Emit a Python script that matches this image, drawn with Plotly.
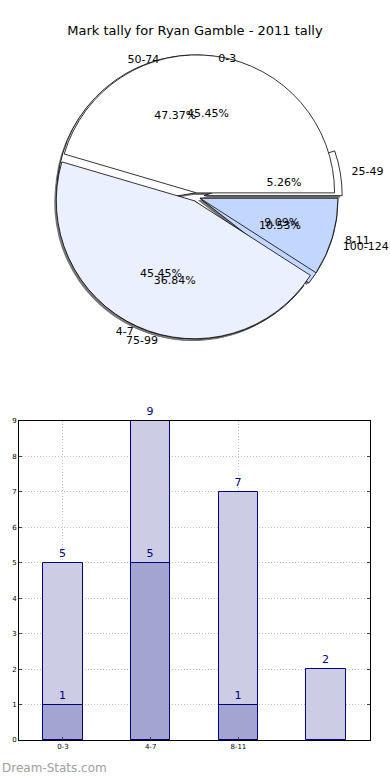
import plotly.graph_objects as go

# ---- data ----
title_text = "Mark tally for Ryan Gamble - 2011 tally"
pie1_labels = ["0-3", "4-7", "8-11"]
pie1_values = [5, 5, 1]
pie2_labels = ["25-49", "50-74", "75-99", "100-124"]
pie2_values = [1, 9, 7, 2]

bar_x = [0, 1, 2, 3]
bar_tick_labels = ["0-3", "4-7", "8-11"]
bar_light = [5, 9, 7, 2]
bar_dark = [1, 5, 1, None]

# ---- styling ----
W, H = 390, 780
pie_cx, pie_cy = 196, 197  # px
R = 138                    # pie radius, px
slice_pull1 = [0.03, 0.03, 0.03]
slice_pull2 = [0.06, 0.03, 0.03, 0.03]
pct_R = 104
pct_pull1 = [0.31, 0.31, 0.08]
pct_pull2 = [0.0, 0.31, 0.31, 0.1]
lab_R = 132
lab_pull1 = [0.01, 0.075, 0.15]
lab_pull2 = [0.17, 0.03, 0.075, 0.15]

def pdom(r, pulls, dx=0, dy=0):
    half = r * (1 + max(pulls))
    x0 = (pie_cx + dx - half) / W
    x1 = (pie_cx + dx + half) / W
    y0 = 1 - (pie_cy + dy + half) / H
    y1 = 1 - (pie_cy + dy - half) / H
    return dict(x=[x0, x1], y=[y0, y1])

def rot(vals):
    # plotly puts the first ccw slice clockwise of `rotation`; shift so the
    # first slice starts at 3 o'clock and runs counterclockwise
    return 90 - 360.0 * vals[0] / sum(vals)

pie1_colors = ["#ffffff", "#eaf0fe", "#c3d7fe"]
pie2_colors = ["#ffffff", "#ffffff", "#eaf0fe", "#c3d7fe"]
txtfont = dict(family="DejaVu Sans", size=11, color="black")
clear = "rgba(0,0,0,0)"

def pie(labs, vals, pl, dom, **kw):
    return go.Pie(labels=labs, values=vals, pull=pl, domain=dom,
                  direction="counterclockwise", rotation=rot(vals), sort=False,
                  hoverinfo="skip", showlegend=False, automargin=False, **kw)

pies = [(pie2_labels, pie2_values, slice_pull2, pie2_colors, pct_pull2, lab_pull2),
        (pie1_labels, pie1_values, slice_pull1, pie1_colors, pct_pull1, lab_pull1)]

fig = go.Figure()
# shadows
for labs, vals, pl, _, _, _ in pies:
    fig.add_trace(pie(labs, vals, pl, pdom(R, pl, -2, 2),
                      marker=dict(colors=["#777777"] * len(vals), line=dict(width=0)),
                      textinfo="none"))
# slices (pie 2 underneath, pie 1 on top)
for labs, vals, pl, cols, _, _ in pies:
    fig.add_trace(pie(labs, vals, pl, pdom(R, pl),
                      marker=dict(colors=cols, line=dict(color="black", width=0.8)),
                      textinfo="none"))
# percentages (transparent pies, text inside)
for labs, vals, _, _, ppl, _ in pies:
    fig.add_trace(pie(labs, vals, ppl, pdom(pct_R, ppl),
                      marker=dict(colors=[clear] * len(vals), line=dict(width=0)),
                      texttemplate="%{percent:.2%}", textposition="inside",
                      insidetextorientation="horizontal", insidetextfont=txtfont))
# outside labels (transparent)
for labs, vals, _, _, _, lpl in pies:
    fig.add_trace(pie(labs, vals, lpl, pdom(lab_R, lpl),
                      marker=dict(colors=[clear] * len(vals), line=dict(width=0)),
                      texttemplate="%{label}", textposition="outside",
                      outsidetextfont=txtfont))

# bars
navy = "#000080"
fig.add_trace(go.Bar(x=bar_x, y=bar_light, width=0.45,
                     marker=dict(color="#ccccE4", line=dict(color=navy, width=1)),
                     text=bar_light, textposition="outside", cliponaxis=False,
                     textfont=dict(family="DejaVu Sans", size=11, color=navy),
                     showlegend=False, hoverinfo="skip"))
fig.add_trace(go.Bar(x=bar_x, y=bar_dark, width=0.45,
                     marker=dict(color="#a4a4d0", line=dict(color=navy, width=1)),
                     text=[v if v is not None else "" for v in bar_dark],
                     textposition="outside", cliponaxis=False,
                     textfont=dict(family="DejaVu Sans", size=11, color=navy),
                     showlegend=False, hoverinfo="skip"))

grid = dict(showgrid=True, gridcolor="#c0c0c0", griddash="1px,2px", gridwidth=1)
fig.update_layout(
    width=W, height=H, margin=dict(l=0, r=0, t=0, b=0, autoexpand=False),
    showlegend=False,
    paper_bgcolor="white", plot_bgcolor="white",
    barmode="overlay", bargap=0,
    uniformtext=dict(minsize=11, mode="show"),
    font=dict(family="DejaVu Sans", color="black"),
    title=dict(text=title_text, x=0.5, xanchor="center", y=1 - 30 / H, yanchor="middle",
               font=dict(size=13, family="DejaVu Sans", color="black")),
    xaxis=dict(domain=[19 / W, 370 / W], range=[-0.5, 3.5], tickvals=bar_x[:3],
               ticktext=bar_tick_labels, tickfont=dict(size=7), automargin=False,
               showline=True, linecolor="black", linewidth=1, mirror=True,
               ticks="inside", ticklen=3, zeroline=False, fixedrange=True, **grid),
    yaxis=dict(domain=[40 / H, 359 / H], range=[0, 9], dtick=1, tickfont=dict(size=7),
               automargin=False,
               showline=True, linecolor="black", linewidth=1, mirror="ticks",
               ticks="inside", ticklen=3, zeroline=False, fixedrange=True, **grid),
    annotations=[dict(text="Dream-Stats.com", xref="paper", yref="paper", x=0, y=0,
                      xanchor="left", yanchor="bottom", yshift=3, showarrow=False,
                      font=dict(size=12, color="#a0a0a0", family="DejaVu Sans"))],
)

fig.write_html("out.html", config={"displayModeBar": False},
               post_script="document.body.style.margin='0';"
               "document.body.style.overflow='hidden';")
